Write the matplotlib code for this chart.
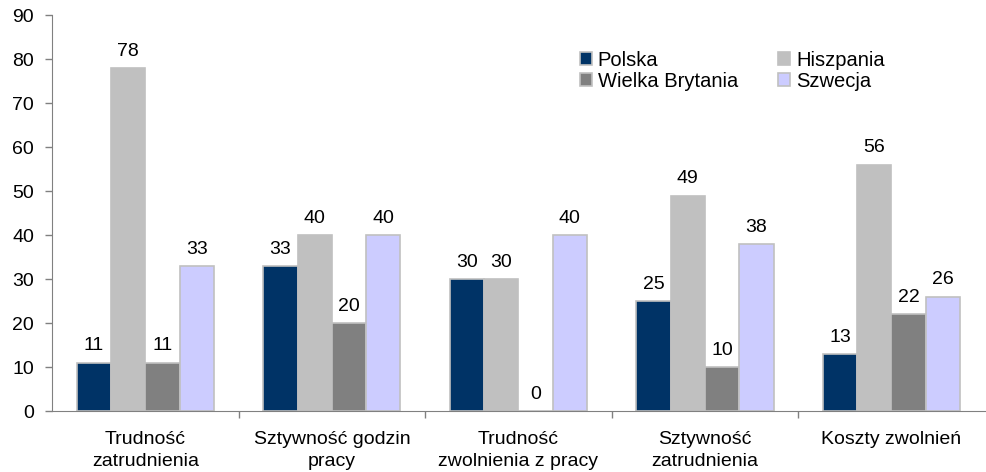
import matplotlib
matplotlib.use("Agg")
import matplotlib.pyplot as plt
import numpy as np

categories = ["Trudność\nzatrudnienia", "Sztywność godzin\npracy",
              "Trudność\nzwolnienia z pracy", "Sztywność\nzatrudnienia",
              "Koszty zwolnień"]
series = ["Polska", "Hiszpania", "Wielka Brytania", "Szwecja"]
polska = [11, 33, 30, 25, 13]
hiszpania = [78, 40, 30, 49, 56]
wielka_brytania = [11, 20, 0, 10, 22]
szwecja = [33, 40, 40, 38, 26]
values = [polska, hiszpania, wielka_brytania, szwecja]
colors = ["#003366", "#c0c0c0", "#808080", "#ccccff"]

plt.rcParams["font.family"] = ["Liberation Sans", "DejaVu Sans"]
plt.rcParams["font.size"] = 14

fig = plt.figure(figsize=(9.87, 4.72), dpi=100)
ax = fig.add_axes([0.0527, 0.129, 0.945, 0.839])

x = np.arange(len(categories))
w = 0.184
bars = {}
for i, (name, vals, col) in enumerate(zip(series, values, colors)):
    pos = x + (i - 1.5) * w
    b = ax.bar(pos, vals, w, color=col, edgecolor="#c0c0c0", linewidth=1.2,
               label=name, zorder=2)
    bars[name] = b
    for xp, v in zip(pos, vals):
        ax.annotate(f"{v}", (xp, v), xytext=(0, 6), textcoords="offset points",
                    ha="center", va="bottom", fontsize=14)

ax.set_xlim(-0.5, len(categories) - 0.5)
ax.set_ylim(0, 90)
ax.set_yticks(range(0, 91, 10))
ax.set_xticks(x)
ax.set_xticklabels(categories, linespacing=1.4)
ax.set_xticks(np.arange(0.5, len(categories) - 0.5, 1), minor=True)
ax.tick_params(axis="x", which="major", length=0, pad=14)
ax.tick_params(axis="x", which="minor", length=5, color="#808080", width=1)
ax.tick_params(axis="y", length=5, color="#808080", width=1, pad=8)
for s in ["top", "right"]:
    ax.spines[s].set_visible(False)
for s in ["left", "bottom"]:
    ax.spines[s].set_color("#808080")

handles = [bars["Polska"], bars["Wielka Brytania"], bars["Hiszpania"], bars["Szwecja"]]
labels = ["Polska", "Wielka Brytania", "Hiszpania", "Szwecja"]
ax.legend(handles, labels, ncol=2, frameon=False, loc="upper left",
          bbox_to_anchor=(0.557, 0.93), handlelength=0.6, handleheight=0.6,
          handletextpad=0.3, columnspacing=2.0, labelspacing=0.1,
          borderaxespad=0, fontsize=14.5)

fig.savefig("out.png", dpi=100)
